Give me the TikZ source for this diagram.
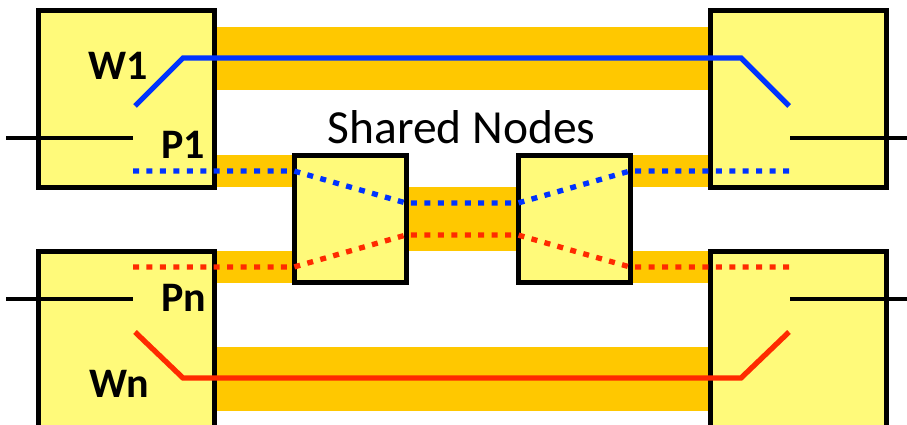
\documentclass[tikz,border=0pt]{standalone}
\usepackage{fontspec}
\newfontfamily\lab{Carlito}
\definecolor{boxyellow}{RGB}{255,250,122}
\definecolor{bandorange}{RGB}{255,200,0}
\definecolor{wblue}{RGB}{0,51,255}
\definecolor{wred}{RGB}{255,42,0}
\tikzset{
  sbox/.style={draw=black,line width=5pt,fill=boxyellow,rectangle,inner sep=0pt,outer sep=0pt},
  band/.style={fill=bandorange,rectangle,inner sep=0pt,outer sep=0pt,draw=none},
  wire/.style={line width=5.3pt,line join=miter},
  pdot/.style={line width=5.3pt,dash pattern=on 6pt off 7.45pt},
  port/.style={line width=3.8pt,black},
  blab/.style={font=\lab\bfseries\fontsize{42}{42}\selectfont,inner sep=0pt,anchor=base},
}
\begin{document}
\begin{tikzpicture}[x=1pt,y=-1pt]
\path[use as bounding box,clip] (0,0) rectangle (907,425);
% orange bands
\node[band,minimum width=492pt,minimum height=63pt] (bandtop) at (462,58.5) {};
\node[band,minimum width=492pt,minimum height=64pt] (bandbot) at (462,379) {};
\node[band,minimum width=78pt,minimum height=32pt] (bandlp1) at (255,171) {};
\node[band,minimum width=78pt,minimum height=32pt] (bandlpn) at (255,267) {};
\node[band,minimum width=78pt,minimum height=32pt] (bandrp1) at (669,171) {};
\node[band,minimum width=78pt,minimum height=32pt] (bandrpn) at (669,267) {};
\node[band,minimum width=112pt,minimum height=64pt] (bandmid) at (462,219) {};
% boxes
\node[sbox,minimum width=175.5pt,minimum height=176pt] (w1) at (126.25,99) {};
\node[sbox,minimum width=175.5pt,minimum height=184pt] (wn) at (126.25,343) {};
\node[sbox,minimum width=176pt,minimum height=176pt] (r1) at (798,99) {};
\node[sbox,minimum width=176pt,minimum height=184pt] (rn) at (798,343) {};
\node[sbox,minimum width=112pt,minimum height=127pt] (shl) at (350,218.5) {};
\node[sbox,minimum width=112pt,minimum height=127pt] (shr) at (574,218.5) {};
% coordinates
\coordinate (lp1) at (6,138);
\coordinate (lp1e) at (133,138);
\coordinate (rp1) at (907,138);
\coordinate (rp1e) at (790,138);
\coordinate (lpn) at (6,299);
\coordinate (lpne) at (133,299);
\coordinate (rpn) at (907,299);
\coordinate (rpne) at (790,299);
% black port lines
\draw[port] (lp1) -- (lp1e);
\draw[port] (rp1e) -- (rp1);
\draw[port] (lpn) -- (lpne);
\draw[port] (rpne) -- (rpn);
% working paths
\coordinate (b1) at (135,106);
\coordinate (b2) at (183,58);
\coordinate (b3) at (741,58);
\coordinate (b4) at (789,106);
\draw[wire,wblue] (b1) -- (b2) -- (b3) -- (b4);
\coordinate (r1a) at (135,332);
\coordinate (r2a) at (183,378);
\coordinate (r3a) at (741,378);
\coordinate (r4a) at (789,332);
\draw[wire,wred] (r1a) -- (r2a) -- (r3a) -- (r4a);
% protection paths
\coordinate (pb1) at (133,171);
\coordinate (pb2) at (294,171);
\coordinate (pb3) at (406,203);
\coordinate (pb4) at (518,203);
\coordinate (pb5) at (630,171);
\coordinate (pb6) at (789,171);
\draw[pdot,wblue] (pb1) -- (pb2) -- (pb3) -- (pb4) -- (pb5) -- (pb6);
\coordinate (pr1) at (133,267);
\coordinate (pr2) at (294,267);
\coordinate (pr3) at (406,235);
\coordinate (pr4) at (518,235);
\coordinate (pr5) at (630,267);
\coordinate (pr6) at (789,267);
\draw[pdot,wred] (pr1) -- (pr2) -- (pr3) -- (pr4) -- (pr5) -- (pr6);
% labels
\node[blab] (tw1) at (118.5,80) {W1};
\node[blab] (tp1) at (183,158) {P1};
\node[blab] (tpn) at (184,311.5) {Pn};
\node[blab] (twn) at (119,397) {Wn};
\node[font=\lab\fontsize{47.5}{47.5}\selectfont,inner sep=0pt,anchor=base] (shared) at (461.5,143) {Shared Nodes};
\end{tikzpicture}
\end{document}
